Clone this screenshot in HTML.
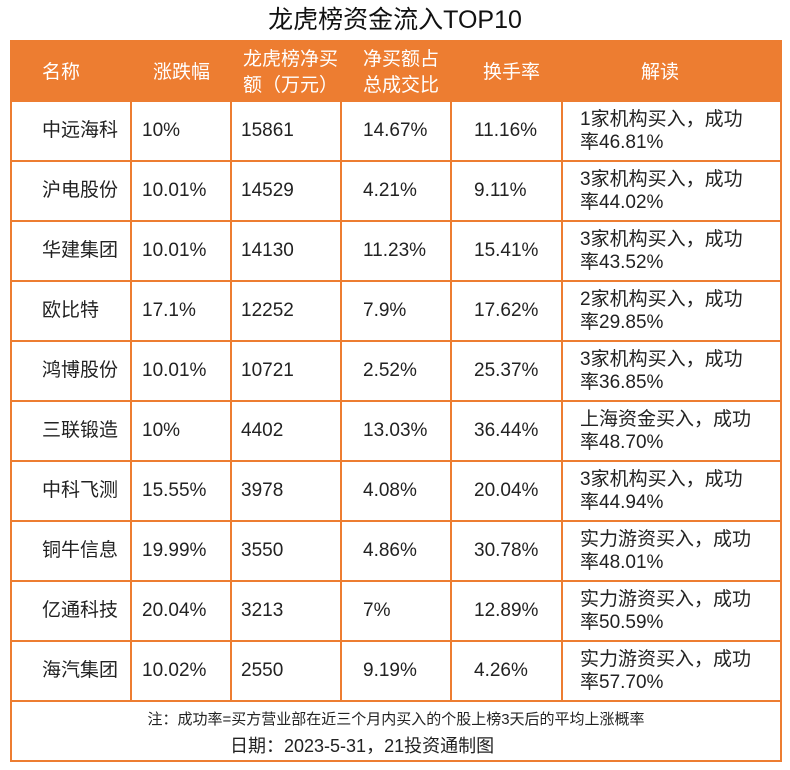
<!DOCTYPE html>
<html><head><meta charset="utf-8"><style>
body{margin:0;width:790px;height:770px;background:#fff;font-family:"Liberation Sans","Noto Sans CJK SC",sans-serif;color:#222;position:relative;overflow:hidden}
.t{position:absolute;white-space:nowrap}
#title{left:0;width:790px;top:4px;text-align:center;font-size:25px;line-height:32px;color:#111}
#tbl{position:absolute;left:10px;top:40px;width:768px;height:718px;border:2px solid #ED7D31}
#hdr{position:absolute;left:0;top:0;width:768px;height:60px;background:#ED7D31}
.h{color:#fff;font-size:19px;line-height:23px}
.c{font-size:19px;line-height:23px;color:#222}
.hl{position:absolute;left:0;width:768px;height:2px;background:#ED7D31}
.vl{position:absolute;width:2px;background:#ED7D31;top:60px;height:600px}
</style></head><body>
<div id="title" class="t">龙虎榜资金流入TOP10</div>
<div id="tbl">
<div id="hdr">
<div class="t h" style="left:30px;top:19px">名称</div>
<div class="t h" style="left:141px;top:19px">涨跌幅</div>
<div class="t h" style="left:231px;top:5px;line-height:26px">龙虎榜净买<br>额（万元）</div>
<div class="t h" style="left:351px;top:5px;line-height:26px">净买额占<br>总成交比</div>
<div class="t h" style="left:471px;top:19px">换手率</div>
<div class="t h" style="left:629px;top:19px">解读</div>
</div>
<div id="body"></div>
<div class="t" style="left:0;width:768px;text-align:center;top:666px;font-size:15px;color:#222">注：成功率=买方营业部在近三个月内买入的个股上榜3天后的平均上涨概率</div>
<div class="t" style="left:218px;top:690px;font-size:18px;color:#222">日期：2023-5-31，21投资通制图</div>
</div>
<script>
const names=["中远海科","沪电股份","华建集团","欧比特","鸿博股份","三联锻造","中科飞测","铜牛信息","亿通科技","海汽集团"];
const changes=["10%","10.01%","10.01%","17.1%","10.01%","10%","15.55%","19.99%","20.04%","10.02%"];
const netBuy=["15861","14529","14130","12252","10721","4402","3978","3550","3213","2550"];
const ratio=["14.67%","4.21%","11.23%","7.9%","2.52%","13.03%","4.08%","4.86%","7%","9.19%"];
const turnover=["11.16%","9.11%","15.41%","17.62%","25.37%","36.44%","20.04%","30.78%","12.89%","4.26%"];
const who=["1家机构买入","3家机构买入","3家机构买入","2家机构买入","3家机构买入","上海资金买入","3家机构买入","实力游资买入","实力游资买入","实力游资买入"];
const rate=["46.81%","44.02%","43.52%","29.85%","36.85%","48.70%","44.94%","48.01%","50.59%","57.70%"];
const tbl=document.getElementById('tbl');
const colX=[30,130,229,351,462,568];
[118,218,328,438,549].forEach(x=>{const v=document.createElement('div');v.className='vl';v.style.left=x+'px';


tbl.appendChild(v);});
for(let i=0;i<=10;i++){const h=document.createElement('div');h.className='hl';h.style.top=(58+i*60)+'px';


tbl.appendChild(h);}
for(let i=0;i<10;i++){
const top=60+i*60;
const vals=[names[i],changes[i],netBuy[i],ratio[i],turnover[i]];
vals.forEach((v,j)=>{const d=document.createElement('div');d.className='t c';d.style.left=colX[j]+'px';d.style.top=(top+17)+'px';d.textContent=v;


tbl.appendChild(d);});
const d=document.createElement('div');d.className='t c';d.style.left=colX[5]+'px';d.style.top=(top+6)+'px';
d.innerHTML=who[i]+'，成功<br>率'+rate[i];


tbl.appendChild(d);
}
</script>
</body></html>
